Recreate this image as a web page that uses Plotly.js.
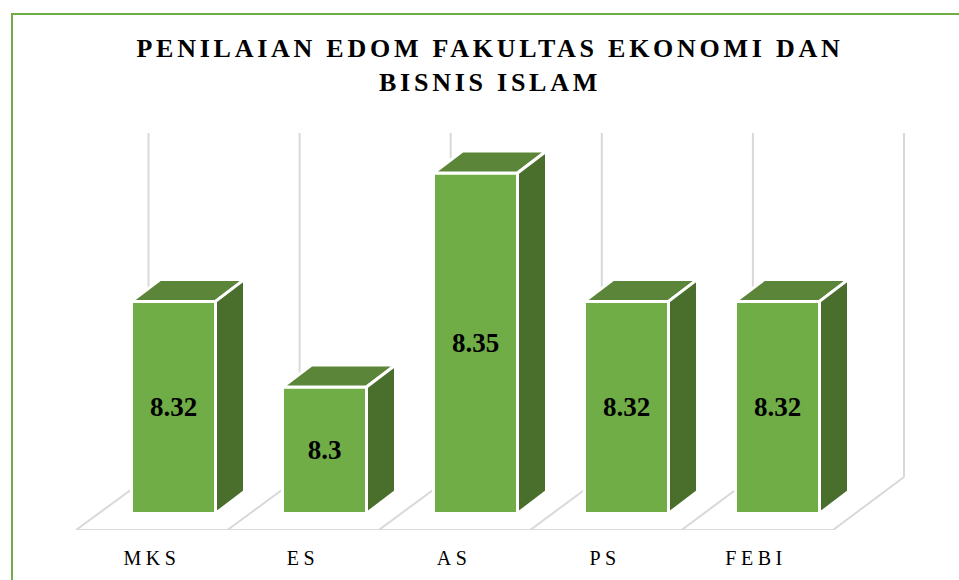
<!DOCTYPE html>
<html><head><meta charset="utf-8">
<script src="https://cdn.plot.ly/plotly-3.0.1.min.js"></script>
<style>
html,body{margin:0;padding:0;background:#fff;overflow:hidden}
#chart{width:959px;height:580px}
.gtitle{letter-spacing:3.75px}
.xtick text{letter-spacing:4.5px}
</style></head><body><div id="chart"></div>
<script>
const categories = ['MKS','ES','AS','PS','FEBI'];
const values = [8.32, 8.3, 8.35, 8.32, 8.32];
const valueLabels = ['8.32','8.3','8.35','8.32','8.32'];
const titleLines = ['PENILAIAN EDOM FAKULTAS EKONOMI DAN','BISNIS ISLAM'];

const W = 959, H = 580, unitX = 151, x0Px = 152, pxPerValue = 4280;
const px2x = p => (p - x0Px) / unitX;
const px2v = p => 8.3 + (387 - p) / pxPerValue;
const topPx = 120, botPx = 530;
const barBase = px2v(513.5);
const idx = categories.map((_, i) => i);
const barOffset = (173.5 - x0Px) / unitX, barW = 84 / unitX;
const depthX = 29 / unitX, depthY = 22 / pxPerValue;

const topX = [], topY = [], sideX = [], sideY = [];
idx.forEach(i => {
  const l = i + barOffset - barW / 2, r = i + barOffset + barW / 2, v = values[i];
  topX.push(l, r, r + depthX, l + depthX, l, null);
  topY.push(v, v, v + depthY, v + depthY, v, null);
  sideX.push(r, r + depthX, r + depthX, r, r, null);
  sideY.push(v, v + depthY, barBase + depthY, barBase, v, null);
});

const gridColor = '#d9d9d9';
const gridLine = {color: gridColor, width: 2};
const floorFront = px2v(530), floorBack = px2v(477), wallTop = px2v(133);
const line = (x0, y0, x1, y1, ln) => ({type:'line', xref:'x', yref:'y', layer:'below', x0, y0, x1, y1, line: ln});
const shapes = [];
shapes.push(line(px2x(76), floorFront, px2x(833), floorFront, gridLine));
for (let i = 0; i <= categories.length; i++) {
  const f = px2x(76 + 151.4 * i), b = px2x(148.5 + 151.1 * i);
  shapes.push(line(f, floorFront, b, floorBack, gridLine));
  shapes.push(line(b, floorBack, b, wallTop, gridLine));
}
// outer frame
const frame = {color:'#70ad47', width:2};
shapes.push({type:'line', xref:'paper', yref:'paper', x0:11/W, x1:1, y0:1-14/H, y1:1-14/H, line:frame, layer:'above'});
shapes.push({type:'line', xref:'paper', yref:'paper', x0:12/W, x1:12/W, y0:1-13/H, y1:-0.2, line:frame, layer:'above'});

const serif = '"Liberation Serif","Times New Roman",serif';
const traces = [
  {type:'bar', x: idx.map(i => i + barOffset), y: values.map(v => v - barBase), base: barBase, width: barW,
   marker:{color:'#70ad47', line:{color:'#ffffff', width:3}},
   text: valueLabels, textposition:'inside', insidetextanchor:'middle', textangle:0, constraintext:'none',
   insidetextfont:{family:serif, size:27, color:'#000000', weight:700}, hoverinfo:'skip'},
  {type:'scatter', mode:'lines', x: topX, y: topY, fill:'toself', fillcolor:'#5b8538',
   line:{color:'#ffffff', width:3}, hoverinfo:'skip'},
  {type:'scatter', mode:'lines', x: sideX, y: sideY, fill:'toself', fillcolor:'#4a6f2c',
   line:{color:'#ffffff', width:3}, hoverinfo:'skip'}
];
const layout = {
  width:W, height:H, margin:{l:0,r:0,t:0,b:0}, paper_bgcolor:'#ffffff', plot_bgcolor:'rgba(0,0,0,0)', showlegend:false,
  title:{text:titleLines.join('<br>'), x:490/W, xanchor:'center', xref:'paper', y:1-57/H, yanchor:'top',
         font:{family:serif, size:26, color:'#000000', weight:700}},
  xaxis:{type:'linear', domain:[0,1], range:[px2x(0), px2x(W)], showgrid:false, zeroline:false, showline:false,
         ticks:'', tickmode:'array', tickvals:idx, ticktext:categories, ticklabelstandoff:14,
         tickfont:{family:serif, size:20, color:'#000000'}},
  yaxis:{domain:[1-botPx/H, 1-topPx/H], range:[px2v(botPx), px2v(topPx)], visible:false},
  shapes:shapes
};
Plotly.newPlot('chart', traces, layout, {staticPlot:true, displayModeBar:false});
</script></body></html>
